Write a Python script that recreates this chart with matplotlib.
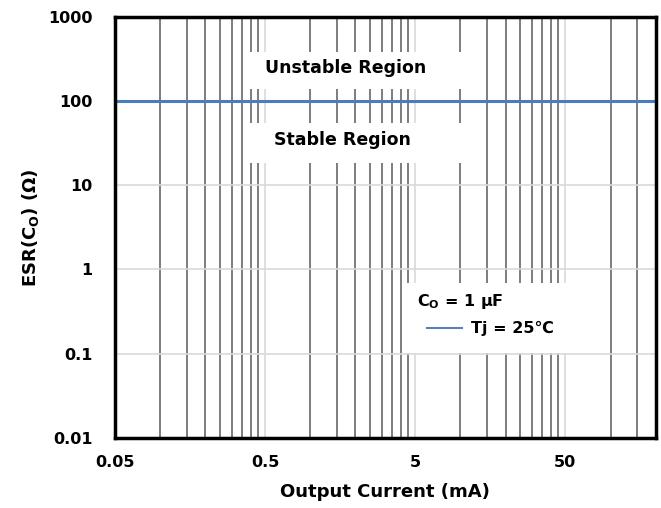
import numpy as np
import matplotlib
matplotlib.use("Agg")
import matplotlib.pyplot as plt
from matplotlib.ticker import FixedLocator, NullFormatter
from matplotlib.patches import Rectangle

plt.rcParams['font.family'] = ['DejaVu Sans']
plt.rcParams['font.weight'] = 'bold'
plt.rcParams['mathtext.default'] = 'regular'

# boundary line (ESR limit)
current = [0.05, 200]
esr = [100, 100]

x_ticks = [0.05, 0.5, 5, 50]
x_labels = ['0.05', '0.5', '5', '50']
y_ticks = [0.01, 0.1, 1, 10, 100, 1000]
y_labels = ['0.01', '0.1', '1', '10', '100', '1000']
# vertical grid at multiples of the decade start (0.05, 0.5, 5, 50)
grid_mult = [2, 3, 4, 5, 6, 7, 8, 9]

fig = plt.figure(figsize=(6.61, 5.08), dpi=100)
ax = fig.add_axes([0.174, 0.138, 0.818, 0.829])

ax.set_xscale('log')
ax.set_yscale('log')
ax.set_xlim(0.05, 200)
ax.set_ylim(0.01, 1000)

minor = [b * m for b in x_ticks for m in grid_mult if b * m < 200]

ax.set_xticks(x_ticks, x_labels)
ax.xaxis.set_minor_locator(FixedLocator(minor))
ax.xaxis.set_minor_formatter(NullFormatter())
ax.set_yticks(y_ticks, y_labels)
ax.yaxis.set_minor_locator(FixedLocator([]))

ax.grid(True, which='major', axis='both', color='#d9d9d9', lw=1.2)
ax.grid(True, which='minor', axis='x', color='#5a5a5a', lw=1.1)
ax.set_axisbelow(True)
ax.tick_params(which='both', length=0, labelsize=11.5)
ax.tick_params(axis='y', pad=16)
ax.tick_params(axis='x', pad=12)
for lab in ax.get_xticklabels() + ax.get_yticklabels():
    lab.set_fontweight('bold')

for s in ax.spines.values():
    s.set_linewidth(2.5)
    s.set_color('black')
    s.set_zorder(5)

ax.plot(current, esr, color='#4a7ebb', lw=2.2, label='Tj = 25℃', zorder=4)

# white boxes behind region labels and legend
ax.add_patch(Rectangle((0.240, 0.829), 0.425, 0.088, transform=ax.transAxes,
                       facecolor='white', edgecolor='none', zorder=2))
ax.add_patch(Rectangle((0.240, 0.653), 0.416, 0.095, transform=ax.transAxes,
                       facecolor='white', edgecolor='none', zorder=2))
ax.add_patch(Rectangle((0.536, 0.202), 0.36, 0.166, transform=ax.transAxes,
                       facecolor='white', edgecolor='none', zorder=2))
ax.text(0.427, 0.879, 'Unstable Region', transform=ax.transAxes, fontsize=12.5,
        fontweight='bold', ha='center', va='center', zorder=3)
ax.text(0.421, 0.708, 'Stable Region', transform=ax.transAxes, fontsize=12.5,
        fontweight='bold', ha='center', va='center', zorder=3)
ax.text(0.558, 0.325, 'C$_O$ = 1 µF', transform=ax.transAxes, fontsize=11.5,
        fontweight='bold', ha='left', va='center', zorder=3)

leg = ax.legend(loc='center left', bbox_to_anchor=(0.577, 0.259),
                frameon=False, prop={'weight': 'bold', 'size': 11.5},
                handlelength=2.2, handletextpad=0.56, borderpad=0,
                borderaxespad=0)
leg.get_lines()[0].set_linewidth(1.5)
leg.get_lines()[0].set_color('#5b80b5')
leg.set_zorder(3)

ax.set_xlabel('Output Current (mA)', fontsize=13, fontweight='bold', labelpad=10)
ax.set_ylabel('ESR(C$_O$) (Ω)', fontsize=13, fontweight='bold', labelpad=5)

fig.savefig('out.png', dpi=100)
